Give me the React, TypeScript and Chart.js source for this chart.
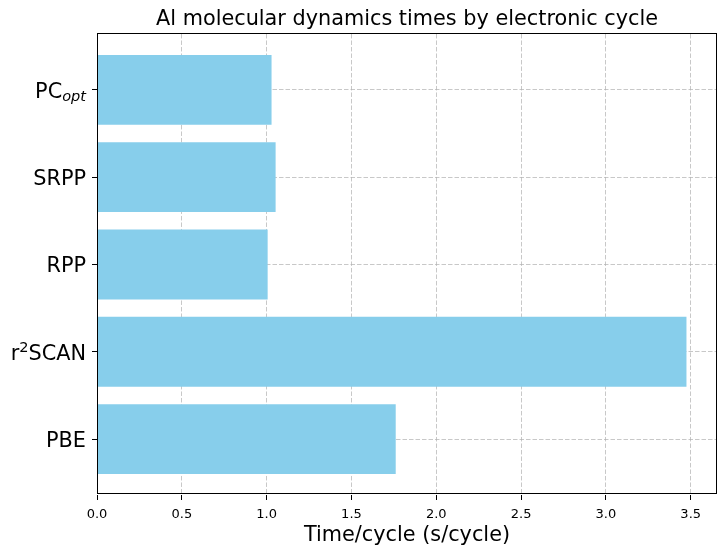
import React, { useEffect, useRef } from 'react';
import { Chart, registerables } from 'chart.js';

Chart.register(...registerables);

// ---- data ----
const categories = ['PBE', 'r^{2}SCAN', 'RPP', 'SRPP', 'PC_{opt}'];
const times = [1.761, 3.475, 1.006, 1.053, 1.029];
const xTicks = [0, 0.5, 1, 1.5, 2, 2.5, 3, 3.5];
const xMax = 3.655;
const chartTitle = 'Al molecular dynamics times by electronic cycle';
const xTitle = 'Time/cycle (s/cycle)';

const FONT = "'DejaVu Sans', sans-serif";
const GRID = 'rgba(176,176,176,0.7)';
const DASH = [4.5, 2];

function drawRichLabel(ctx: CanvasRenderingContext2D, label: string, right: number, y: number) {
  const parts = label.split(/(_\{[^}]*\}|\^\{[^}]*\})/).filter(Boolean);
  const base = 20.8;
  const small = 14.56;
  const segs = parts.map((p) => {
    if (p.startsWith('_{')) return { text: p.slice(2, -1), font: `italic ${small}px ${FONT}`, dy: 3, w: 0 };
    if (p.startsWith('^{')) return { text: p.slice(2, -1), font: `${small}px ${FONT}`, dy: -8, w: 0 };
    return { text: p, font: `${base}px ${FONT}`, dy: 0, w: 0 };
  });
  let total = 0;
  segs.forEach((s) => {
    ctx.font = s.font;
    s.w = ctx.measureText(s.text).width;
    total += s.w;
  });
  let x = right - total;
  ctx.fillStyle = 'black';
  ctx.textBaseline = 'alphabetic';
  ctx.textAlign = 'left';
  segs.forEach((s) => {
    ctx.font = s.font;
    ctx.fillText(s.text, x, y + 8 + s.dy);
    x += s.w;
  });
}

const framePlugin = {
  id: 'frameAndLabels',
  afterDraw(chart: any) {
    const ctx: CanvasRenderingContext2D = chart.ctx;
    const { left, top, right, bottom } = chart.chartArea;
    ctx.save();
    ctx.strokeStyle = 'black';
    ctx.lineWidth = 1;
    ctx.setLineDash([]);
    const l = Math.floor(left) + 0.5;
    const t = Math.floor(top) + 0.5;
    const r = Math.floor(right) - 0.5;
    const b = Math.floor(bottom) - 0.5;
    ctx.strokeRect(l, t, r - l, b - t);
    const yScale = chart.scales.y;
    categories.forEach((c, i) => {
      drawRichLabel(ctx, c, left - 11, yScale.getPixelForValue(i));
    });
    ctx.restore();
  },
};

export default function App() {
  const canvasRef = useRef<HTMLCanvasElement | null>(null);

  useEffect(() => {
    const canvas = canvasRef.current;
    if (!canvas) return;
    const chart = new Chart(canvas, {
      type: 'bar',
      data: {
        datasets: [
          {
            data: times.map((v, i) => ({ x: v, y: i })),
            backgroundColor: '#87CEEB',
            borderWidth: 0,
            barPercentage: 0.8,
            categoryPercentage: 1,
          },
        ],
      },
      options: {
        indexAxis: 'y',
        animation: false,
        responsive: false,
        maintainAspectRatio: false,
        devicePixelRatio: 1,
        layout: { padding: { top: 0, right: 9, bottom: 0, left: 0 } },
        plugins: {
          legend: { display: false },
          tooltip: { enabled: false },
          title: {
            display: true,
            text: chartTitle,
            color: 'black',
            fullSize: false,
            font: { family: FONT, size: 20.8, weight: 'normal' },
            padding: { top: 7, bottom: 2 },
          },
        },
        scales: {
          x: {
            type: 'linear',
            position: 'bottom',
            min: 0,
            max: xMax,
            z: 1,
            offset: false,
            afterBuildTicks: (s: any) => {
              s.ticks = xTicks.map((v) => ({ value: v }));
            },
            afterFit: (s: any) => {
              s.height = 60;
            },
            ticks: {
              color: 'black',
              font: { family: FONT, size: 13 },
              padding: 7,
              maxRotation: 0,
              autoSkip: false,
              callback: (v: any) => Number(v).toFixed(1),
            },
            grid: {
              color: GRID,
              lineWidth: 1,
              offset: false,
              drawTicks: true,
              tickLength: 5,
              tickColor: 'black',
              tickBorderDash: [],
            },
            border: { display: false, dash: DASH },
            title: {
              display: true,
              text: xTitle,
              color: 'black',
              font: { family: FONT, size: 20.8 },
              padding: { top: 0, bottom: 6.5 },
            },
          },
          y: {
            type: 'linear',
            min: -0.64,
            max: 4.64,
            z: 1,
            offset: false,
            afterBuildTicks: (s: any) => {
              s.ticks = categories.map((_, i) => ({ value: i }));
            },
            afterFit: (s: any) => {
              s.width = 97;
            },
            ticks: { display: false },
            grid: {
              color: GRID,
              lineWidth: 1,
              offset: false,
              drawTicks: true,
              tickLength: 5,
              tickColor: 'black',
              tickBorderDash: [],
            },
            border: { display: false, dash: DASH },
          },
        },
      } as any,
      plugins: [framePlugin],
    });
    return () => chart.destroy();
  }, []);

  return (
    <div style={{ position: 'absolute', left: 0, top: 0, width: 726, height: 555, background: 'white' }}>
      <canvas ref={canvasRef} width={726} height={555} style={{ display: 'block' }} />
    </div>
  );
}
